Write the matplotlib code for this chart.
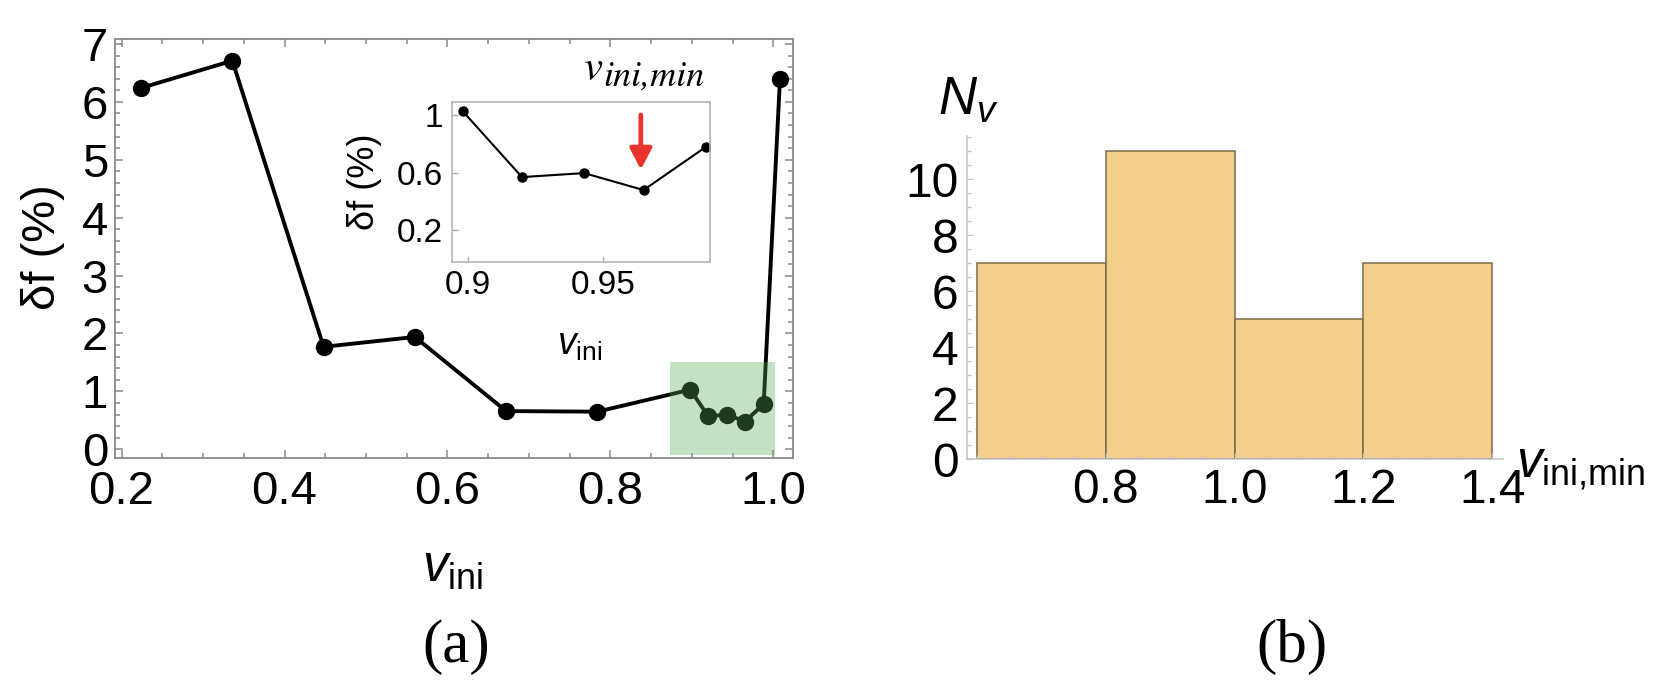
import numpy as np
import matplotlib
matplotlib.use("Agg")
import matplotlib.pyplot as plt
from matplotlib.patches import Rectangle
from matplotlib.ticker import MultipleLocator, FixedLocator

plt.rcParams['font.family'] = ['Liberation Sans', 'DejaVu Sans']
plt.rcParams['mathtext.fontset'] = 'custom'
plt.rcParams['mathtext.rm'] = 'Liberation Sans'
plt.rcParams['mathtext.it'] = 'Liberation Sans:italic'

# (a) relative error vs initial velocity
v_ini = [0.224, 0.336, 0.448, 0.560, 0.672, 0.784, 0.898, 0.920, 0.943, 0.965, 0.988, 1.008]
delta_f = [6.24, 6.71, 1.77, 1.94, 0.66, 0.65, 1.03, 0.57, 0.60, 0.48, 0.78, 6.39]

# inset: zoom on the last points
v_zoom = [0.898, 0.920, 0.943, 0.965, 0.988]
df_zoom = [1.028, 0.568, 0.596, 0.478, 0.777]
v_min = 0.964

# (b) histogram of v_ini,min
bin_edges = [0.6, 0.8, 1.0, 1.2, 1.4]
counts = [7, 11, 5, 7]

W, H = 1662, 692
fig = plt.figure(figsize=(W / 100, H / 100), dpi=100)


def fx(px):
    return px / W


def fy(py):
    return 1 - py / H


# ---------- panel (a) ----------
ax = fig.add_axes([fx(115), fy(458), fx(793 - 115), (458 - 39.3) / H])
ax.plot(v_ini, delta_f, color='black', lw=2.8, marker='o', ms=11.5, zorder=3)
ax.add_patch(Rectangle((0.873, -0.105), 1.0025 - 0.873, 1.61,
                       facecolor='#55aa55', alpha=0.35, edgecolor='none', zorder=4))
ax.set_xlim(0.192, 1.024)
ax.set_ylim(-0.15, 7.08)
ax.xaxis.set_minor_locator(MultipleLocator(0.05))
ax.yaxis.set_major_locator(MultipleLocator(1))
ax.yaxis.set_minor_locator(MultipleLocator(0.2))
ax.set_xticks([0.2, 0.4, 0.6, 0.8, 1.0])
ax.set_xticklabels(['0.2', '0.4', '0.6', '0.8', '1.0'])
ax.tick_params(which='both', direction='in', top=True, right=True,
               color='#8a8a8a', labelsize=34, width=1.1)
ax.tick_params(axis='x', pad=9)
ax.tick_params(axis='y', pad=5)
ax.tick_params(which='major', length=6)
ax.tick_params(which='minor', length=3.5)
for s in ax.spines.values():
    s.set_color('#8a8a8a')
    s.set_linewidth(1.3)

fig.text(fx(43), fy(247), 'δf (%)', rotation=90, ha='center', va='center', fontsize=34)
fig.text(fx(453), fy(582), r'$\mathit{v}_{\mathrm{ini}}$', ha='center', va='baseline', fontsize=37)
fig.text(fx(456), fy(647), '(a)', family='Liberation Serif', ha='center', va='center', fontsize=44)

# inset
axi = fig.add_axes([fx(451.7), fy(261.7), fx(710 - 451.7), (261.7 - 102.3) / H])
axi.plot(v_zoom, df_zoom, color='black', lw=1.5, marker='o', ms=6.5)
axi.annotate('', xy=(v_min, 0.62), xytext=(v_min, 1.0),
             arrowprops=dict(arrowstyle='-|>,head_length=0.42,head_width=0.22',
                             color='#e8342a', lw=3.4, mutation_scale=30,
                             shrinkA=0, shrinkB=0))
axi.set_xlim(0.894, 0.9896)
axi.set_ylim(-0.02, 1.088)
axi.xaxis.set_major_locator(FixedLocator([0.9, 0.95]))
axi.set_xticklabels(['0.9', '0.95'])
axi.yaxis.set_major_locator(FixedLocator([0.2, 0.6, 1.0]))
axi.set_yticklabels(['0.2', '0.6', '1'])
axi.tick_params(direction='in', color='#aaaaaa', labelsize=24, length=4, width=1, pad=6)
for s in axi.spines.values():
    s.set_color('#b5b5b5')
    s.set_linewidth(1.2)

fig.text(fx(365), fy(182), 'δf (%)', rotation=90, ha='center', va='center', fontsize=26)
fig.text(fx(580), fy(355), r'$\mathit{v}_{\mathrm{ini}}$', ha='center', va='baseline', fontsize=27)
fig.text(fx(583), fy(80), 'v', family='STIXGeneral', style='italic', fontsize=31,
         ha='left', va='baseline')
fig.text(fx(603), fy(86), 'ini,min', family='STIXGeneral', style='italic', fontsize=26,
         ha='left', va='baseline')

# ---------- panel (b) ----------
axh = fig.add_axes([fx(966.7), fy(459.3), fx(1502.7 - 966.7), (459.3 - 136) / H])
axh.bar(bin_edges[:-1], counts, width=np.diff(bin_edges), align='edge',
        color='#f4cf8c', edgecolor='#7a6a4c', linewidth=1.1)
axh.set_xlim(0.5845, 1.416)
axh.set_ylim(0, 11.55)
axh.xaxis.set_major_locator(FixedLocator([0.8, 1.0, 1.2, 1.4]))
axh.set_xticklabels(['0.8', '1.0', '1.2', '1.4'])
axh.xaxis.set_minor_locator(MultipleLocator(0.05))
axh.yaxis.set_major_locator(MultipleLocator(2))
axh.yaxis.set_minor_locator(MultipleLocator(0.5))
axh.tick_params(which='both', direction='in', color='#c4c4c4', labelsize=34.5, width=1)
axh.tick_params(axis='x', pad=6)
axh.tick_params(axis='y', pad=6)
axh.tick_params(which='major', length=4.5)
axh.tick_params(which='minor', length=3)
for side in ['top', 'right']:
    axh.spines[side].set_visible(False)
for side in ['left', 'bottom']:
    axh.spines[side].set_color('#c4c4c4')
    axh.spines[side].set_linewidth(1.1)

fig.text(fx(938), fy(115), r'$\mathit{N}_{\mathit{v}}$', ha='left', va='baseline', fontsize=38)
fig.text(fx(1516), fy(477), r'$\mathit{v}_{\mathrm{ini{,}min}}$', ha='left', va='baseline', fontsize=37)
fig.text(fx(1292), fy(647), '(b)', family='Liberation Serif', ha='center', va='center', fontsize=44)

fig.savefig('out.png', dpi=100)
